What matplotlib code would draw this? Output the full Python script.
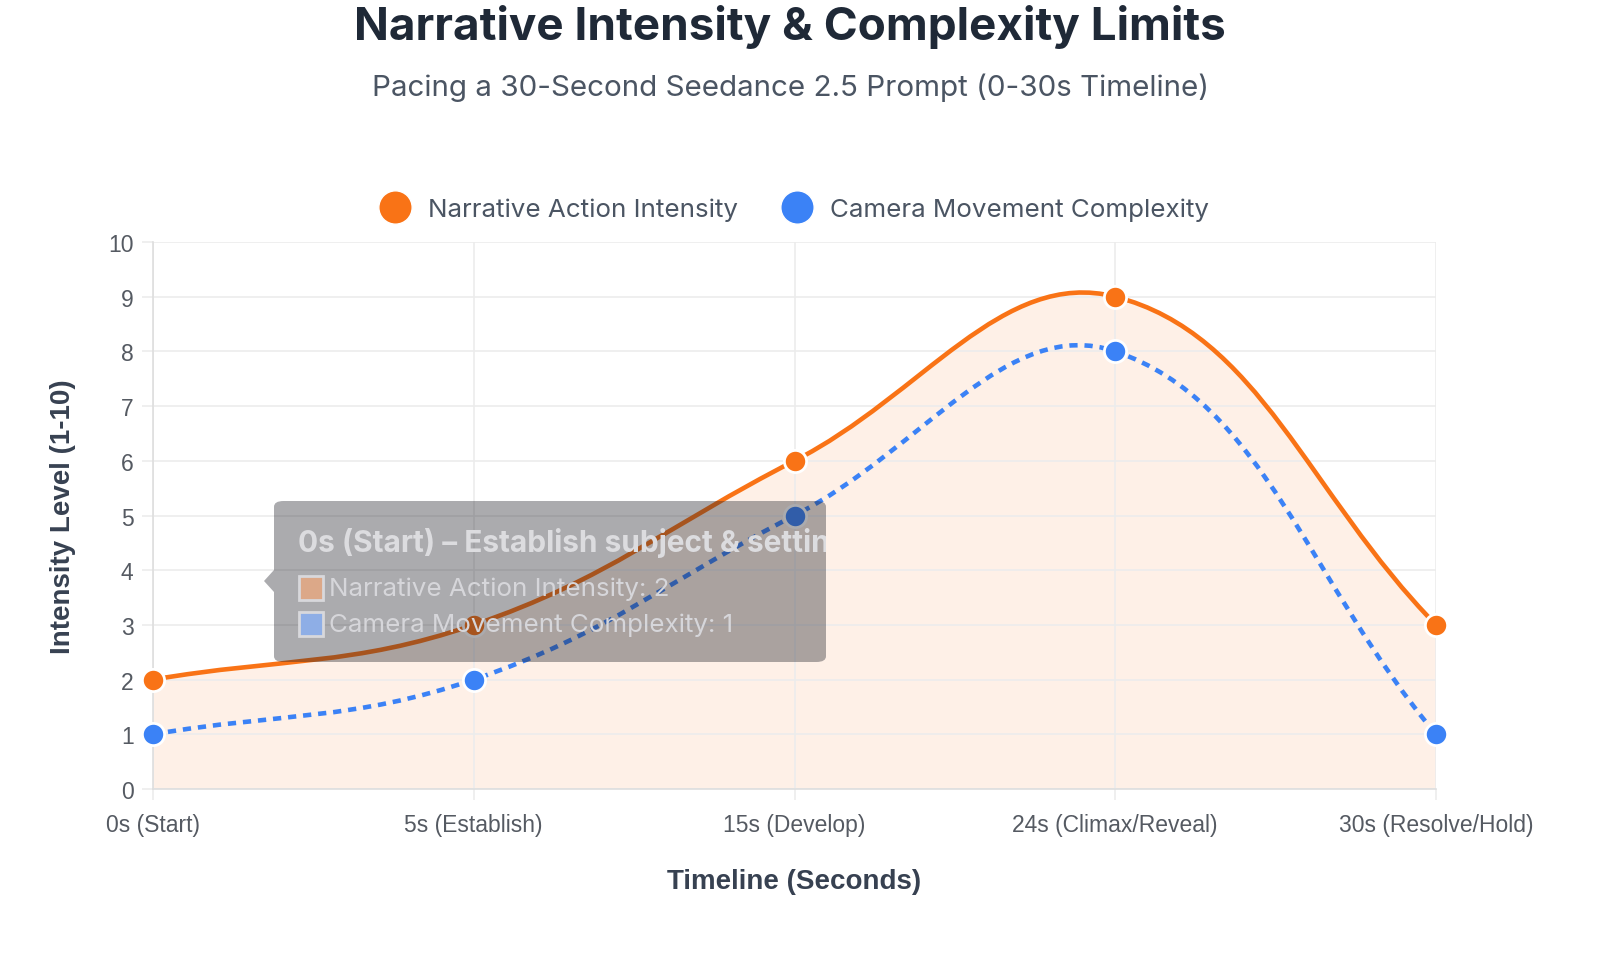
import matplotlib
matplotlib.use("Agg")
import matplotlib.pyplot as plt
from matplotlib.path import Path
from matplotlib.patches import PathPatch, FancyBboxPatch, Rectangle, Polygon
from matplotlib.lines import Line2D
from matplotlib.transforms import Bbox, TransformedBbox
import numpy as np

categories = ["0s (Start)", "5s (Establish)", "15s (Develop)", "24s (Climax/Reveal)", "30s (Resolve/Hold)"]
narrative = [2, 3, 6, 9, 3]
camera = [1, 2, 5, 8, 1]
series_names = ["Narrative Action Intensity", "Camera Movement Complexity"]
title = "Narrative Intensity & Complexity Limits"
subtitle = "Pacing a 30-Second Seedance 2.5 Prompt (0-30s Timeline)"
tooltip_title = "0s (Start) \u2013 Establish subject & setting"
tooltip_lines = ["Narrative Action Intensity: 2", "Camera Movement Complexity: 1"]

ORANGE = "#f97316"
BLUE = "#3b82f6"
GRID = "#ececec"

W, H = 1600, 962
fig = plt.figure(figsize=(W / 100, H / 100), dpi=100)
ax = fig.add_axes([153 / W, 1 - 790 / H, (1436 - 153) / W, (790 - 243) / H])
ax.set_xlim(0, len(categories) - 1)
ax.set_ylim(0, 10)

x = np.arange(len(categories))


def spline_path(xs, ys, tension=0.4):
    pts = ax.transData.transform(np.column_stack([xs, ys]))
    n = len(pts)
    verts = [pts[0]]
    codes = [Path.MOVETO]
    cps = []
    for i in range(n):
        prev = pts[i - 1] if i > 0 else pts[i]
        cur = pts[i]
        nxt = pts[i + 1] if i < n - 1 else pts[i]
        d01 = np.hypot(*(cur - prev))
        d12 = np.hypot(*(nxt - cur))
        tot = d01 + d12
        s01 = d01 / tot if tot else 0
        s12 = d12 / tot if tot else 0
        fa = tension * s01
        fb = tension * s12
        cps.append((cur - fa * (nxt - prev), cur + fb * (nxt - prev)))
    for i in range(1, n):
        verts += [cps[i - 1][1], cps[i][0], pts[i]]
        codes += [Path.CURVE4] * 3
    inv = ax.transData.inverted()
    return inv.transform(np.array(verts)), codes


# grid
ax.set_yticks(range(0, 11))
ax.set_xticks(x)
ax.set_xticklabels(categories)
ax.grid(True, color=GRID, linewidth=1.2, zorder=0)
for s in ["top", "right"]:
    ax.spines[s].set_visible(False)
for s in ["left", "bottom"]:
    ax.spines[s].set_color("#dedede")
    ax.spines[s].set_linewidth(1.2)
ax.tick_params(axis="both", length=8, color=GRID, width=1.2, labelsize=16.5,
               labelcolor="#555a62")
ax.tick_params(axis="x", pad=9)
ax.tick_params(axis="y", pad=6)
for lab in ax.get_xticklabels() + ax.get_yticklabels():
    lab.set_fontfamily("Liberation Sans")

# orange fill + line
v, c = spline_path(x, narrative)
fill_verts = np.vstack([v, [[x[-1], 0], [x[0], 0], v[0]]])
fill_codes = c + [Path.LINETO, Path.LINETO, Path.CLOSEPOLY]
ax.add_patch(PathPatch(Path(fill_verts, fill_codes), facecolor=ORANGE, alpha=0.1,
                       edgecolor="none", zorder=1))
ax.add_patch(PathPatch(Path(v, c), facecolor="none", edgecolor=ORANGE, lw=3.3, zorder=3,
                       capstyle="butt"))

v2, c2 = spline_path(x, camera)
ax.add_patch(PathPatch(Path(v2, c2), facecolor="none", edgecolor=BLUE, lw=3.3, zorder=3,
                       linestyle=(0, (1.8, 1.5)), capstyle="butt"))

ax.plot(x, narrative, "o", color=ORANGE, ms=16, mec="white", mew=2, zorder=4, clip_on=False)
ax.plot(x, camera, "o", color=BLUE, ms=16, mec="white", mew=2, zorder=4, clip_on=False)

ax.set_xlabel("Timeline (Seconds)", fontsize=20, fontweight="bold", color="#374151",
              family="Liberation Sans", labelpad=23)
ax.set_ylabel("Intensity Level (1-10)", fontsize=20, fontweight="bold", color="#374151",
              family="Liberation Sans", labelpad=23)

# title / subtitle
fig.text(790 / W, 1 - 27 / H, title, ha="center", va="center", fontsize=33,
         fontweight="bold", color="#1f2937", family="Inter")
fig.text(790 / W, 1 - 88 / H, subtitle, ha="center", va="center", fontsize=21.3,
         color="#4b5563", family="Inter")

# legend
handles = [Line2D([], [], marker="o", ls="none", color=ORANGE, ms=24, mec="white", mew=1),
           Line2D([], [], marker="o", ls="none", color=BLUE, ms=24, mec="white", mew=1)]
leg = fig.legend(handles, series_names, loc="center", bbox_to_anchor=(789 / W, 1 - 210 / H),
                 ncol=2, frameon=False, handletextpad=0.25, columnspacing=1.3,
                 prop={"family": "Inter", "size": 18.7})
for t in leg.get_texts():
    t.set_color("#4b5563")

# tooltip overlay (in figure pixel coords)
def fx(px):
    return px / W


def fy(py):
    return 1 - py / H


box = FancyBboxPatch((fx(274), fy(663)), fx(826) - fx(274), fy(502) - fy(663),
                     boxstyle="round,pad=0,rounding_size=0.006", transform=fig.transFigure,
                     facecolor="#22232c", alpha=0.38, edgecolor="none", zorder=10)
fig.add_artist(box)
caret = Polygon([[fx(274), fy(571)], [fx(264), fy(582)], [fx(274), fy(593)]], closed=True,
                transform=fig.transFigure, facecolor="#22232c", alpha=0.38, edgecolor="none",
                zorder=10)
fig.add_artist(caret)
clip_bb = TransformedBbox(Bbox([[fx(274), fy(663)], [fx(826), fy(502)]]), fig.transFigure)
tt = fig.text(fx(298), fy(543), tooltip_title, ha="left", va="center", fontsize=21.5,
              fontweight="bold", color="#dcdcdf", family="Inter", zorder=11)
tt.set_clip_box(clip_bb)
tt.set_clip_on(True)
sq_colors = ["#dca888", "#8eaee6"]
for i, (line, col) in enumerate(zip(tooltip_lines, sq_colors)):
    yc = 589 + i * 36
    fig.add_artist(Rectangle((fx(299), fy(yc + 12)), fx(24), fy(0) - fy(24),
                             transform=fig.transFigure, facecolor=col, edgecolor="#d8d8dc",
                             lw=2, zorder=11))
    t = fig.text(fx(329), fy(yc), line, ha="left", va="center", fontsize=18.7,
                 color="#d6d6da", family="Inter", zorder=11)
    t.set_clip_box(clip_bb)
    t.set_clip_on(True)

fig.savefig("out.png", dpi=100, facecolor="white")
